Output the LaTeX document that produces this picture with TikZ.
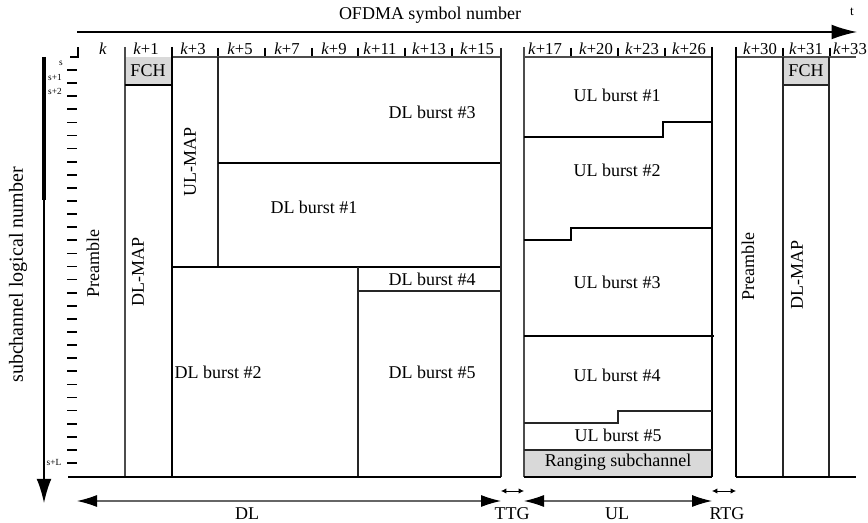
\documentclass[tikz,border=0pt]{standalone}
\usepackage{fontspec}
\setmainfont{Liberation Serif}
\usetikzlibrary{arrows.meta}

\begin{document}
\begin{tikzpicture}[x=0.75pt, y=-0.75pt, >={Latex[length=14pt,width=8pt]},
    font=\fontsize{13.5}{15}\selectfont,
    boldline/.style={line width=1.9pt},
    midline/.style={line width=1.3pt, black!85},
    thinline/.style={line width=0.9pt, black!70},
    grayfill/.style={fill=black!15},
    colhead/.style={font=\fontsize{12.5}{14}\selectfont, inner sep=0pt},
    sublab/.style={font=\fontsize{7}{8}\selectfont, inner sep=0pt},
    spanarrow/.style={<->, black!60, line width=0.8pt,
        >={Latex[length=15pt,width=9pt,color=black]}},
    gaparrow/.style={<->, line width=0.6pt, >={Latex[length=4pt,width=4pt]}}]

  \useasboundingbox (0,0) rectangle (868,523);

  % ==== AXES ====
  \coordinate (tstart) at (77,32);
  \coordinate (tend) at (857,32);
  \draw[->, line width=1.1pt, >={Latex[length=19pt,width=11pt]}] (tstart) -- (tend);
  \node (tlab) at (852,12) {\fontsize{10}{11}\selectfont t};
  \node (ofdma) at (430,15) {OFDMA symbol number};

  \coordinate (stop) at (44,57);
  \coordinate (smid) at (44,200);
  \coordinate (send) at (44,503);
  \draw[line width=2.4pt] (stop) -- (smid);
  \draw[->, line width=1pt, >={Latex[length=18pt,width=11pt]}] (smid) -- (send);
  \node[rotate=90, font=\fontsize{15}{17}\selectfont] (subch) at (18,275) {subchannel logical number};

  % ==== SUBCHANNEL TICKS ====
  \foreach \i in {0,...,30}
    \draw[line width=1.3pt] (67,{70+13.1*\i}) -- (77,{70+13.1*\i});
  \draw[line width=0.8pt] (70,57) -- (78,57) -- (78,47);
  \node[sublab] (s0) at (61,63) {s};
  \node[sublab] (s1) at (55,77) {s+1};
  \node[sublab] (s2) at (55,91) {s+2};
  \node[sublab] (sL) at (54,462) {s+L};

  % ==== COLUMN HEADERS ====
  \foreach \x/\t [count=\n] in {103/{}, 146/+1, 193/+3, 240/+5, 287/+7, 334/+9,
      380/+11, 429/+13, 477/+15, 545/+17, 596/+20, 642/+23, 689/+26,
      760/+30, 806/+31, 850/+33}
    \node[colhead] (hd\n) at (\x,49) {\textit{k}\t};
  \foreach \x in {125,172,218,265,312,358,405,452,571,618,665,783,830}
    \draw[line width=1.2pt] (\x,48) -- (\x,57);

  % ==== DL SUBFRAME ====
  \fill[grayfill] (125,57) rectangle (172,85);
  \draw[thinline] (172,57) -- (501,57);
  \draw[thinline] (125,47) -- (125,477);
  \draw[boldline] (172,47) -- (172,477);
  \draw[boldline] (125,85) -- (172,85);
  \draw[midline] (218,57) -- (218,267);
  \draw[boldline] (218,163) -- (501,163);
  \draw[boldline] (172,267) -- (501,267);
  \draw[midline] (358,267) -- (358,477);
  \draw[midline] (358,291) -- (501,291);
  \draw[midline] (501,48) -- (501,477);
  \draw[boldline] (68,477) -- (501,477);

  \node[rotate=90] (pre1) at (93,264) {Preamble};
  \node (fch1) at (148,71) {FCH};
  \node[rotate=90] (dlmap1) at (138,272) {DL-MAP};
  \node[rotate=90] (ulmap) at (190,162) {UL-MAP};
  \node (dl3) at (432,112) {DL burst \#3};
  \node (dl1) at (314,207) {DL burst \#1};
  \node (dl4) at (432,279) {DL burst \#4};
  \node[anchor=west, inner sep=1pt] (dl2) at (173,372) {DL burst \#2};
  \node (dl5) at (432,372) {DL burst \#5};

  % ==== UL SUBFRAME ====
  \fill[grayfill] (524,450) rectangle (712,477);
  \draw[thinline] (524,57) -- (712,57);
  \draw[thinline] (524,47) -- (524,477);
  \draw[boldline] (712,47) -- (712,477);
  \draw[boldline] (524,137) -- (663,137) -- (663,122) -- (712,122);
  \draw[boldline] (524,240) -- (571,240) -- (571,228) -- (712,228);
  \draw[boldline] (524,336) -- (714,336);
  \draw[midline] (524,423) -- (618,423) -- (618,411) -- (712,411);
  \draw[midline] (524,450) -- (712,450);
  \draw[boldline] (524,477) -- (712,477);

  \node (ul1) at (617,95) {UL burst \#1};
  \node (ul2) at (617,170) {UL burst \#2};
  \node (ul3) at (617,282) {UL burst \#3};
  \node (ul4) at (617,375) {UL burst \#4};
  \node (ul5) at (618,435) {UL burst \#5};
  \node (rng) at (618,462) {Ranging subchannel};

  % ==== NEXT FRAME ====
  \fill[grayfill] (783,57) rectangle (829,85);
  \draw[thinline] (736,57) -- (856,57);
  \draw[boldline] (736,47) -- (736,477);
  \draw[midline] (783,57) -- (783,477);
  \draw[midline] (829,57) -- (829,477);
  \draw[midline] (783,85) -- (829,85);
  \draw[boldline] (736,477) -- (856,477);

  \node[rotate=90] (pre2) at (748,267) {Preamble};
  \node (fch2) at (806,71) {FCH};
  \node[rotate=90] (dlmap2) at (797,275) {DL-MAP};

  % ==== DL / UL SPANS ====
  \coordinate (dlA) at (77,501);
  \coordinate (dlB) at (501,501);
  \coordinate (ulA) at (524,501);
  \coordinate (ulB) at (712,501);
  \coordinate (ttgA) at (501,491);
  \coordinate (ttgB) at (524,491);
  \coordinate (rtgA) at (712,491);
  \coordinate (rtgB) at (736,491);
  \draw[spanarrow] (dlA) -- (dlB);
  \draw[spanarrow] (ulA) -- (ulB);
  \draw[gaparrow] (ttgA) -- (ttgB);
  \draw[gaparrow] (rtgA) -- (rtgB);
  \node (dllab) at (247,514) {DL};
  \node (ttglab) at (512,514) {TTG};
  \node (ullab) at (617,514) {UL};
  \node (rtglab) at (727,514) {RTG};
\end{tikzpicture}
\end{document}
